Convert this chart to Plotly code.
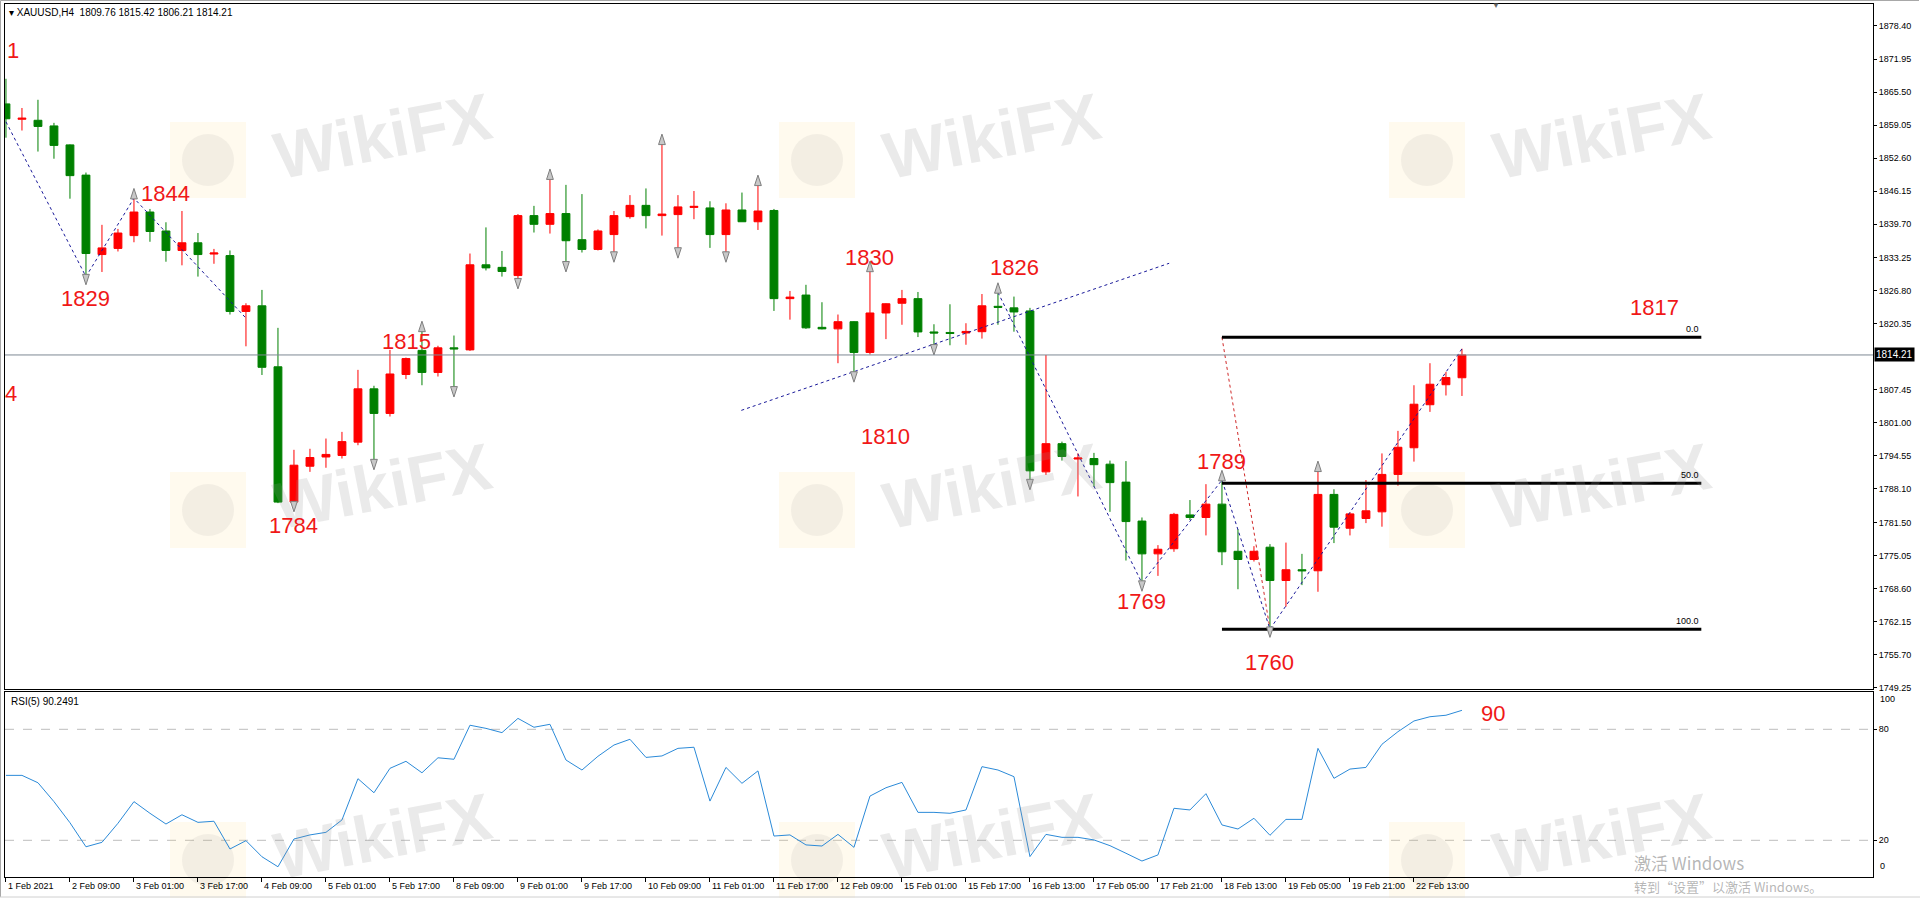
import plotly.graph_objects as go

# ---------------- data ----------------
opens = [1863.2, 1860.2, 1860.0, 1858.9, 1855.2, 1849.3, 1833.8, 1835.0, 1837.5, 1842.1,
         1838.4, 1834.6, 1836.1, 1833.9, 1833.6, 1822.7, 1823.8, 1811.9, 1785.5, 1792.5,
         1794.3, 1794.6, 1797.2, 1807.6, 1802.8, 1810.4, 1815.1, 1810.8, 1815.6, 1815.2,
         1831.8, 1831.3, 1829.7, 1841.4, 1839.7, 1841.8, 1836.7, 1834.8, 1837.7, 1841.2,
         1843.4, 1841.4, 1841.6, 1843.0, 1842.9, 1837.7, 1842.5, 1840.2, 1842.4, 1825.2,
         1825.9, 1819.6, 1819.3, 1820.7, 1814.7, 1822.4, 1824.3, 1825.2, 1818.7, 1818.6,
         1818.5, 1818.75, 1823.7, 1823.4, 1822.8, 1791.4, 1796.9, 1793.9, 1794.0, 1792.9,
         1789.4, 1781.8, 1775.4, 1776.4, 1783.0, 1782.5, 1785.1, 1775.9, 1774.3, 1776.7,
         1770.2, 1772.3, 1772.1, 1787.0, 1780.4, 1782.3, 1783.6, 1790.9, 1796.1, 1804.5,
         1808.4, 1809.76]
highs = [1868.1, 1862.4, 1864.0, 1859.5, 1855.3, 1849.8, 1839.6, 1838.8, 1844.8, 1842.7,
         1840.1, 1842.3, 1838.0, 1834.9, 1834.6, 1824.3, 1826.9, 1819.5, 1795.7, 1795.9,
         1797.9, 1799.2, 1811.3, 1808.2, 1815.2, 1813.7, 1818.9, 1816.0, 1818.0, 1834.0,
         1839.1, 1834.5, 1841.7, 1843.3, 1848.6, 1847.4, 1845.6, 1838.7, 1842.3, 1845.4,
         1846.7, 1855.4, 1845.4, 1846.2, 1844.2, 1843.8, 1845.9, 1847.4, 1842.7, 1826.7,
         1827.9, 1824.5, 1822.1, 1820.8, 1830.6, 1824.3, 1826.9, 1826.5, 1820.2, 1824.1,
         1820.4, 1826.1, 1826.4, 1825.6, 1823.4, 1814.2, 1797.3, 1795.0, 1795.1, 1793.6,
         1793.5, 1782.5, 1777.1, 1783.4, 1785.9, 1789.0, 1789.8, 1780.2, 1776.9, 1777.3,
         1777.6, 1775.4, 1791.6, 1788.0, 1783.5, 1789.8, 1795.0, 1799.4, 1808.3, 1812.6,
         1810.9, 1815.42]
lows = [1856.6, 1858.0, 1853.9, 1852.5, 1844.7, 1829.5, 1830.4, 1834.4, 1836.2, 1836.3,
        1832.4, 1831.7, 1829.5, 1832.0, 1822.1, 1815.9, 1810.3, 1785.3, 1785.2, 1791.4,
        1792.2, 1794.0, 1796.6, 1793.4, 1802.2, 1809.5, 1808.3, 1810.0, 1807.6, 1815.0,
        1830.7, 1829.5, 1828.7, 1838.1, 1837.9, 1832.0, 1834.2, 1834.6, 1833.9, 1840.8,
        1838.9, 1837.5, 1834.7, 1840.7, 1835.1, 1833.9, 1840.2, 1838.6, 1822.8, 1821.1,
        1819.3, 1819.2, 1812.6, 1810.5, 1814.3, 1817.3, 1820.1, 1817.7, 1815.8, 1816.1,
        1816.2, 1817.4, 1820.1, 1818.75, 1789.5, 1790.8, 1793.6, 1786.6, 1788.5, 1783.6,
        1774.1, 1769.7, 1771.1, 1775.8, 1782.0, 1779.0, 1773.2, 1768.5, 1773.9, 1760.7,
        1765.1, 1769.3, 1768.0, 1777.5, 1779.0, 1781.4, 1780.7, 1788.7, 1793.4, 1803.1,
        1806.3, 1806.21]
closes = [1860.3, 1860.4, 1858.8, 1855.1, 1849.2, 1834.0, 1835.1, 1838.0, 1842.1, 1838.3,
          1834.6, 1836.1, 1833.8, 1834.1, 1822.7, 1823.8, 1811.8, 1785.5, 1792.7, 1794.2,
          1794.8, 1797.3, 1807.6, 1802.8, 1810.5, 1813.5, 1810.8, 1815.6, 1815.4, 1831.8,
          1831.2, 1830.5, 1841.4, 1839.7, 1841.8, 1836.5, 1834.8, 1838.4, 1841.4, 1843.4,
          1841.4, 1841.7, 1843.1, 1843.2, 1837.7, 1842.5, 1840.2, 1842.3, 1825.2, 1825.5,
          1819.5, 1819.3, 1820.7, 1814.7, 1822.4, 1824.2, 1825.2, 1818.7, 1818.5, 1818.4,
          1818.8, 1823.8, 1823.5, 1822.6, 1791.6, 1796.9, 1794.4, 1794.1, 1792.8, 1789.3,
          1781.7, 1775.4, 1776.3, 1783.1, 1782.5, 1785.1, 1775.8, 1774.3, 1775.9, 1770.2,
          1772.3, 1772.1, 1787.0, 1780.6, 1783.2, 1783.8, 1790.9, 1796.2, 1804.6, 1808.5,
          1809.8, 1814.21]
rsi = [55.1, 55.1, 51.1, 40.9, 29.5, 16.5, 18.9, 29.2, 40.9, 34.6,
       28.8, 33.8, 29.7, 30.3, 15.3, 19.8, 11.1, 5.7, 20.7, 22.9,
       24.3, 31.0, 53.3, 45.7, 58.9, 62.7, 56.5, 64.6, 63.8, 82.2,
       80.5, 78.2, 85.9, 81.1, 82.7, 63.4, 58.0, 65.4, 71.5, 74.6,
       64.8, 65.6, 69.7, 70.3, 41.2, 59.4, 50.8, 57.5, 22.3, 22.9,
       17.5, 16.9, 23.2, 16.2, 43.9, 48.4, 51.3, 35.1, 35.1, 34.6,
       36.4, 59.8, 58.0, 54.4, 11.2, 23.2, 21.6, 21.6, 20.2, 17.1,
       13.0, 8.8, 12.1, 37.3, 36.4, 45.2, 28.3, 26.1, 31.9, 22.7,
       31.3, 31.3, 69.7, 53.5, 58.5, 59.4, 71.9, 78.7, 84.5, 86.8,
       87.6, 90.25]
bars = list(range(len(opens)))

time_tick_bars = list(range(0, 89, 4))
time_tick_labels = ["1 Feb 2021", "2 Feb 09:00", "3 Feb 01:00", "3 Feb 17:00", "4 Feb 09:00",
                    "5 Feb 01:00", "5 Feb 17:00", "8 Feb 09:00", "9 Feb 01:00", "9 Feb 17:00",
                    "10 Feb 09:00", "11 Feb 01:00", "11 Feb 17:00", "12 Feb 09:00", "15 Feb 01:00",
                    "15 Feb 17:00", "16 Feb 13:00", "17 Feb 05:00", "17 Feb 21:00", "18 Feb 13:00",
                    "19 Feb 05:00", "19 Feb 21:00", "22 Feb 13:00"]
price_ticks = [1878.40, 1871.95, 1865.50, 1859.05, 1852.60, 1846.15, 1839.70, 1833.25, 1826.80,
               1820.35, 1807.45, 1801.00, 1794.55, 1788.10, 1781.50, 1775.05, 1768.60, 1762.15,
               1755.70, 1749.25]
last_price = 1814.21
rsi_levels = [80, 20]

up_fractals = [8, 26, 34, 41, 47, 54, 62, 76, 82]
down_fractals = [5, 18, 23, 28, 32, 35, 38, 42, 45, 53, 58, 64, 71, 79]

zz1_x = [0, 5, 8, 15]
zz1_y = [1859.7, 1829.5, 1844.8, 1821.4]
trend_x = [45.96, 72.7]
trend_y = [1803.4, 1832.1]
zz2_x = [62, 71, 76, 79, 91]
zz2_y = [1826.4, 1769.7, 1789.8, 1760.7, 1815.42]
fib_x = [76, 105.96]
fib_levels = [1817.66, 1789.2, 1760.7]
fib_labels = ["0.0", "50.0", "100.0"]
fib_diag_x = [76, 79]
fib_diag_y = [1817.66, 1760.7]

# red hand-written labels: (text, pixel x centre, pixel y centre)
red_labels = [("1829", 85.5, 298), ("1844", 165, 193), ("1784", 293, 525), ("1815", 406, 342),
              ("1830", 869.5, 257), ("1810", 885, 436), ("1826", 1014, 267), ("1769", 1141, 601),
              ("1789", 1221, 461), ("1760", 1269, 662), ("1817", 1654, 307), ("90", 1493, 713)]

# ---------------- layout geometry ----------------
W, H = 1920, 900
L, R, T, B = 5, 1873, 4, 877
MAIN_BOTTOM, RSI_TOP = 689, 691.5


def px(x):
    return (x - L) / (R - L)


def py(y):
    return (B - y) / (B - T)


FONT = "Liberation Sans, Arial, sans-serif"
fig = go.Figure()

# candles
fig.add_trace(go.Candlestick(
    x=bars, open=opens, high=highs, low=lows, close=closes,
    increasing=dict(line=dict(color="#FF0000", width=1), fillcolor="#FF0000"),
    decreasing=dict(line=dict(color="#008000", width=1), fillcolor="#008000"),
    whiskerwidth=0, xaxis="x2", yaxis="y", showlegend=False, hoverinfo="skip"))

# zigzag / trend lines
for xs, ys, col in [(zz1_x, zz1_y, "#1A1A9A"), (trend_x, trend_y, "#1A1A9A"),
                    (zz2_x, zz2_y, "#1A1A9A"), (fib_diag_x, fib_diag_y, "#D02828")]:
    fig.add_trace(go.Scatter(x=xs, y=ys, mode="lines", xaxis="x2", yaxis="y",
                             line=dict(color=col, width=1, dash="dot"),
                             showlegend=False, hoverinfo="skip"))

# fibonacci levels
for lvl in fib_levels:
    fig.add_trace(go.Scatter(x=fib_x, y=[lvl, lvl], mode="lines", xaxis="x2", yaxis="y",
                             line=dict(color="#000000", width=3), showlegend=False,
                             hoverinfo="skip"))

# fractals
fig.add_trace(go.Scatter(x=up_fractals, y=[highs[i] + 1.9 for i in up_fractals], mode="markers",
                         xaxis="x2", yaxis="y", showlegend=False, hoverinfo="skip",
                         marker=dict(symbol="arrow", angle=0, size=11, color="#C8C8C8",
                                     line=dict(color="#7E7E7E", width=1))))
fig.add_trace(go.Scatter(x=down_fractals, y=[lows[i] - 1.6 for i in down_fractals],
                         mode="markers", xaxis="x2", yaxis="y", showlegend=False,
                         hoverinfo="skip",
                         marker=dict(symbol="arrow", angle=180, size=11, color="#C8C8C8",
                                     line=dict(color="#7E7E7E", width=1))))

# RSI
fig.add_trace(go.Scatter(x=bars, y=rsi, mode="lines", xaxis="x", yaxis="y2",
                         line=dict(color="#2B8AD8", width=1), showlegend=False,
                         hoverinfo="skip"))

shapes = []
# price line
shapes.append(dict(type="line", xref="x2 domain", yref="y", x0=0, x1=1, y0=last_price,
                   y1=last_price, line=dict(color="#7E8893", width=1), layer="above"))
# RSI levels
for lv in rsi_levels:
    shapes.append(dict(type="line", xref="x domain", yref="y2", x0=0, x1=1, y0=lv, y1=lv,
                       line=dict(color="#BDBDBD", width=1, dash="dash"), layer="below"))
# window borders
shapes.append(dict(type="line", xref="paper", yref="paper", x0=px(0.5), x1=px(1919),
                   y0=py(0.5), y1=py(0.5), line=dict(color="#A8A8A8", width=1)))
shapes.append(dict(type="line", xref="paper", yref="paper", x0=px(0.5), x1=px(0.5),
                   y0=py(0.5), y1=py(897), line=dict(color="#A8A8A8", width=1)))
shapes.append(dict(type="line", xref="paper", yref="paper", x0=px(0), x1=px(1920),
                   y0=py(897), y1=py(897), line=dict(color="#D0D0D0", width=1)))

# watermark logos
wm_cols = [0, 609, 1219]
wm_rows = [0, 350, 700]
for dx in wm_cols:
    for dy in wm_rows:
        cx, cy = 208 + dx, 160 + dy
        shapes.append(dict(type="rect", xref="paper", yref="paper",
                           x0=px(cx - 38), x1=px(cx + 38), y0=py(cy + 38), y1=py(cy - 38),
                           fillcolor="rgba(255,214,120,0.13)", line=dict(width=0),
                           layer="below"))
        shapes.append(dict(type="circle", xref="paper", yref="paper",
                           x0=px(cx - 26), x1=px(cx + 26), y0=py(cy + 26), y1=py(cy - 26),
                           fillcolor="rgba(140,140,140,0.10)", line=dict(width=0),
                           layer="below"))


def ann(x, y, text, size, color, xanchor="center", yanchor="middle", xref="paper",
        yref="paper", family=FONT, **kw):
    d = dict(xref=xref, yref=yref, x=x, y=y, text=text, showarrow=False, xanchor=xanchor,
             yanchor=yanchor, font=dict(family=family, size=size, color=color))
    d.update(kw)
    return d


annotations = []
for dx in wm_cols:
    for dy in wm_rows:
        annotations.append(ann(px(382 + dx), py(136 + dy), "<b>WikiFX</b>", 66,
                               "rgba(150,150,150,0.20)", textangle=-11))

# header
annotations.append(ann(px(7), py(13), "\u25BE XAUUSD,H4\u00a0\u00a01809.76 1815.42 1806.21 1814.21",
                       10, "#000000", xanchor="left"))
annotations.append(ann(px(1496), py(6), "\u25BC", 8, "#666666"))
annotations.append(ann(px(9), py(701), "RSI(5) 90.2491", 10, "#000000", xanchor="left"))

# red labels
for txt, x, y in red_labels:
    annotations.append(ann(px(x), py(y), txt, 22, "#F01818"))
annotations.append(ann(px(5), py(50), "1", 22, "#F01818", xanchor="left"))
annotations.append(ann(px(3), py(394), "4", 22, "#F01818", xanchor="left"))

# fib labels
for lvl, lab in zip(fib_levels, fib_labels):
    annotations.append(ann(fib_x[1], lvl, lab, 9, "#000000", xanchor="right",
                           yanchor="bottom", xref="x2", yref="y", yshift=1))

# current price box
annotations.append(ann(1, last_price, "1814.21", 10, "#FFFFFF", xanchor="left",
                       yref="y", xshift=1, bgcolor="#000000", borderpad=1))

# RSI 100 / 0 labels
annotations.append(ann(1, py(699), "100", 9, "#000000", xanchor="left", xshift=5))
annotations.append(ann(1, py(866), "0", 9, "#000000", xanchor="left", xshift=5))

# time labels (left aligned at tick)
for b_, lab in zip(time_tick_bars, time_tick_labels):
    annotations.append(ann(b_, py(886), lab, 9, "#000000", xanchor="left", xref="x"))

# windows watermark
annotations.append(ann(px(1632), py(862), "激活 Windows", 17, "rgba(120,120,120,0.55)",
                       xanchor="left", family="Noto Sans CJK SC, sans-serif"))
annotations.append(ann(px(1632), py(886), "转到“设置”以激活 Windows。", 13,
                       "rgba(120,120,120,0.55)", xanchor="left",
                       family="Noto Sans CJK SC, sans-serif"))

x_range = [-0.06, (R - L) / 16.0 - 0.06]
axis_common = dict(showgrid=False, zeroline=False, showline=True, linecolor="#000000",
                   linewidth=1, mirror=True)

fig.update_layout(
    width=W, height=H,
    margin=dict(l=L, r=W - R, t=T, b=H - B, autoexpand=False),
    paper_bgcolor="#FFFFFF", plot_bgcolor="#FFFFFF",
    showlegend=False,
    xaxis=dict(domain=[0, 1], anchor="y2", range=x_range, tickmode="array",
               tickvals=time_tick_bars, ticks="outside", ticklen=4, tickcolor="#000000",
               showticklabels=False, rangeslider=dict(visible=False), **axis_common),
    xaxis2=dict(domain=[0, 1], anchor="y", matches="x", range=x_range, showticklabels=False,
                ticks="", rangeslider=dict(visible=False), **axis_common),
    yaxis=dict(domain=[py(MAIN_BOTTOM), 1], anchor="x2", side="right",
               range=[1749.03, 1882.69], tickmode="array", tickvals=price_ticks,
               ticktext=["%.2f" % v for v in price_ticks], ticks="outside", ticklen=3,
               tickcolor="#000000", tickfont=dict(family=FONT, size=9, color="#000000"),
               **axis_common),
    yaxis2=dict(domain=[0, py(RSI_TOP)], anchor="x", side="right", range=[0.16, 100.43],
                tickmode="array", tickvals=rsi_levels, ticktext=["80", "20"],
                ticks="outside", ticklen=3, tickcolor="#000000",
                tickfont=dict(family=FONT, size=9, color="#000000"), **axis_common),
    shapes=shapes,
    annotations=annotations,
)

fig.write_html("out.html", config={"displayModeBar": False},
               post_script="document.body.style.margin='0px';document.body.style.overflow='hidden';")
